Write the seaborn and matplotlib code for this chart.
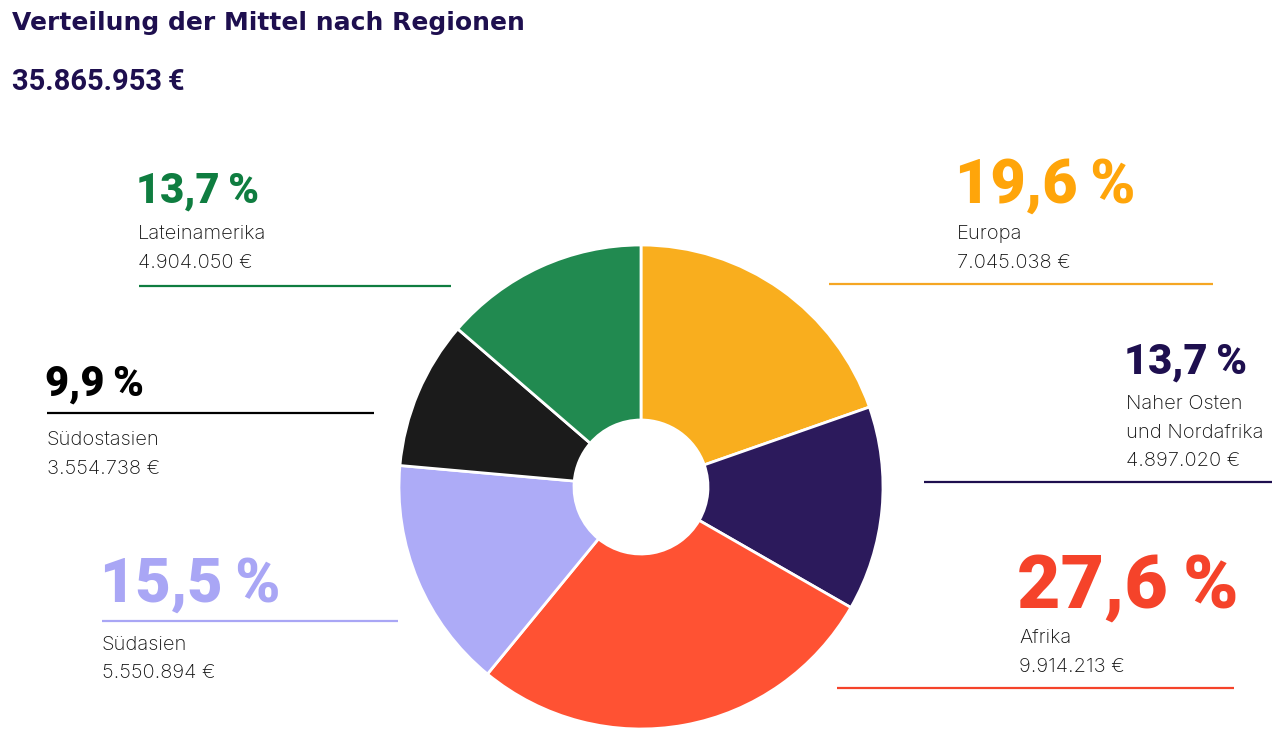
import matplotlib
matplotlib.use("Agg")
import matplotlib.pyplot as plt
import seaborn as sns

# ---- data ----
regions = ["Europa", "Naher Osten\nund Nordafrika", "Afrika", "Südasien", "Südostasien", "Lateinamerika"]
amounts = [7045038, 4897020, 9914213, 5550894, 3554738, 4904050]
title = "Verteilung der Mittel nach Regionen"

# ---- styles ----
slice_colors = ["#F9AE1E", "#2C1A5C", "#FF5233", "#ADABF7", "#1B1B1B", "#218A50"]
text_colors = ["#FFA50A", "#1E0F4F", "#F5432A", "#A9A6F5", "#000000", "#0F7D40"]
line_colors = ["#F5A623", "#1E0F4F", "#F5432A", "#A9A6F5", "#000000", "#0F7D40"]
layout = [
    dict(x=955, pb=203, ly=284, lx=(829, 1213), nb=239, size=44),
    dict(x=1124, pb=374, ly=482, lx=(924, 1272), nb=409, size=30),
    dict(x=1017, pb=608, ly=688, lx=(837, 1234), nb=643, size=54),
    dict(x=100, pb=602, ly=621, lx=(102, 398), nb=650, size=44),
    dict(x=45, pb=396, ly=413, lx=(47, 374), nb=445, size=30),
    dict(x=136, pb=203, ly=286, lx=(139, 451), nb=239, size=30),
]

sns.set_theme(style="white")
plt.rcParams["font.family"] = ["Inter", "DejaVu Sans"]
pct_family = ["Roboto", "DejaVu Sans"]
head_family = ["DejaVu Sans"]

W, H = 1280, 733
fig = plt.figure(figsize=(W / 100, H / 100), dpi=100)
ax = fig.add_axes([0, 0, 1, 1])

total = sum(amounts)
cx, cy, R, r_in = 641, 487, 242, 67
ax.pie(amounts, colors=slice_colors, startangle=90, counterclock=False,
       center=(cx, H - cy), radius=R, frame=True,
       wedgeprops=dict(width=R - r_in, edgecolor="white", linewidth=2))
ax.set_xlim(0, W)
ax.set_ylim(0, H)
ax.set_aspect("equal")
ax.axis("off")

def Y(y):
    return H - y

navy = "#1E0F4F"
ax.text(12, Y(30), title, fontsize=18, fontweight="bold", color=navy, va="baseline", ha="left",
        family=head_family)
ax.text(12, Y(90), f"{total:,}".replace(",", ".") + "\u2009€", fontsize=21, fontweight="bold",
        color=navy, va="baseline", ha="left", family=pct_family)

line_gap = 28.5
for name, amt, tc, lc, L in zip(regions, amounts, text_colors, line_colors, layout):
    pct = f"{amt / total * 100:.1f}".replace(".", ",") + "\u2009%"
    money = f"{amt:,}".replace(",", ".") + " €"
    ax.text(L["x"], Y(L["pb"]), pct, fontsize=L["size"], fontweight="heavy", color=tc,
            va="baseline", ha="left", family=pct_family)
    ax.plot(L["lx"], [Y(L["ly"])] * 2, color=lc, lw=1.6, solid_capstyle="butt")
    tx = L["x"] + 2
    lines = name.split("\n") + [money]
    for i, t in enumerate(lines):
        ax.text(tx, Y(L["nb"] + i * line_gap), t, fontsize=14.5, color="#111111",
                fontweight="light", va="baseline", ha="left")

fig.savefig("out.png", dpi=100, facecolor="white")
